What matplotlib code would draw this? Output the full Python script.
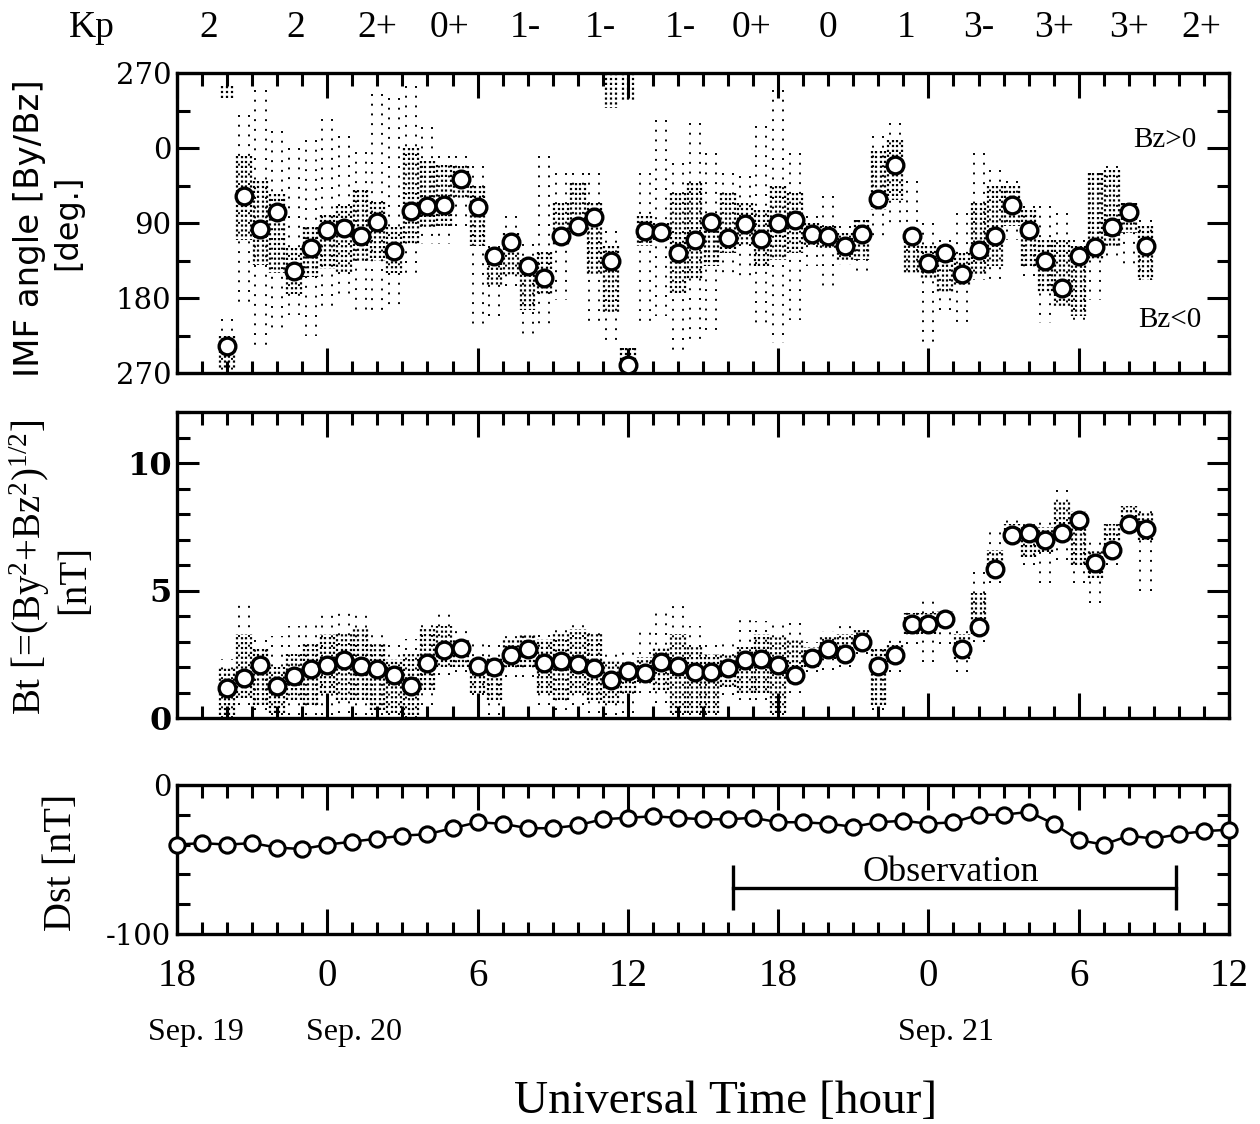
import numpy as np
import matplotlib
matplotlib.use('Agg')
import matplotlib.pyplot as plt
from matplotlib.ticker import MultipleLocator, FixedLocator
import matplotlib.transforms as mtransforms

# ---------------- data (hours relative to Sep. 20, 00 UT) ----------------
avg_start = -4.0          # first 40-min average
avg_step = 40.0 / 60.0    # 40-min averages

imf_angle = [238, 57, 97, 77, 148, 120, 98, 96, 105, 89, 124, 76, 70, 68, 37, 71,
             130, 113, 142, 156, 105, 93, 83, 135, 260, 100, 101, 126, 110, 89, 108,
             91, 109, 90, 86, 103, 106, 118, 103, 61, 20, 105, 138, 126, 151, 122,
             105, 68, 98, 136, 168, 130, 119, 95, 77, 117]

bt = [1.17, 1.56, 2.09, 1.26, 1.66, 1.92, 2.09, 2.28, 2.05, 1.92, 1.69, 1.26, 2.15,
      2.67, 2.74, 2.02, 1.99, 2.48, 2.70, 2.15, 2.22, 2.13, 1.96, 1.50, 1.83, 1.76,
      2.18, 2.02, 1.79, 1.79, 1.96, 2.26, 2.31, 2.09, 1.69, 2.35, 2.70, 2.52, 3.00,
      2.02, 2.48, 3.69, 3.69, 3.87, 2.70, 3.58, 5.83, 7.17, 7.24, 6.97, 7.26, 7.76,
      6.09, 6.58, 7.60, 7.43]

# envelope of the 1-min samples in each 40-min interval (dense core / sparse outliers)
imf_core_lo = [225, 10, 40, 55, 120, 95, 80, 70, 50, 65, 95, 0, 15, 20, 22, 46, 126,
               102, 134, 125, 66, 42, 66, 118, 240, 82, 90, 54, 42, 82, 54, 66, 74, 46,
               54, 90, 94, 102, 86, 4, -10, 100, 118, 122, 126, 66, 46, 46, 74, 110,
               110, 118, 30, 26, 66, 94]
imf_core_hi = [265, 110, 140, 150, 175, 155, 145, 150, 135, 135, 150, 115, 95, 95, 62,
               118, 166, 154, 194, 175, 118, 86, 154, 198, 270, 118, 110, 174, 158, 142,
               126, 118, 142, 134, 126, 118, 122, 134, 134, 74, 62, 150, 158, 174, 166,
               154, 142, 94, 142, 174, 190, 202, 134, 118, 102, 158]
imf_ext_lo = [205, -40, -70, -20, 0, -10, -35, -15, 5, -65, -60, -75, -25, 10, 10, 22,
              118, 82, 115, 10, 30, 30, 30, 100, 240, 30, -34, 18, -30, 6, 30, 34, -26,
              -70, 6, 82, 58, 94, 86, -14, -30, 40, 90, 110, 78, 6, 26, 40, 70, 70, 78,
              110, 30, 22, 66, 86]
imf_ext_hi = [270, 190, 240, 220, 200, 225, 195, 175, 200, 200, 195, 155, 115, 115,
              100, 215, 206, 166, 230, 215, 182, 110, 214, 230, 270, 214, 202, 246, 234,
              218, 150, 154, 214, 234, 206, 142, 174, 140, 150, 110, 90, 150, 234, 200,
              210, 158, 158, 110, 158, 210, 194, 210, 182, 134, 142, 158]
# samples wrapping across 270/-90 (drawn near the top edge)
imf_wrap_lo = [-75] + [np.nan] * 22 + [-90, -90] + [np.nan] * 31
imf_wrap_hi = [-60] + [np.nan] * 22 + [-48, -58] + [np.nan] * 31

bt_core_lo = [0.1, 0.8, 0.5, 0.2, 0.7, 0.5, 1.0, 0.7, 0.7, 0.3, 0.2, 0.1, 1.1, 2.0, 2.0,
              1.0, 0.7, 2.0, 2.0, 1.0, 0.7, 1.0, 0.7, 0.6, 1.0, 1.4, 1.1, 0.2, 0.2, 0.2,
              1.2, 1.0, 1.0, 0.2, 1.6, 2.0, 2.3, 2.3, 2.8, 0.5, 2.2, 3.3, 3.3, 3.6, 2.3,
              3.3, 5.6, 7.0, 6.3, 6.5, 7.2, 6.0, 5.5, 6.6, 7.5, 7.0]
bt_core_hi = [2.0, 3.3, 2.8, 2.0, 2.5, 2.9, 3.3, 3.3, 3.5, 2.9, 2.3, 2.5, 3.5, 3.6, 3.1,
              2.3, 2.4, 3.1, 3.3, 3.1, 3.3, 3.5, 3.3, 2.3, 2.0, 2.4, 2.8, 3.3, 2.8, 2.5,
              2.5, 2.8, 3.3, 3.2, 3.1, 2.8, 3.2, 3.3, 3.5, 2.8, 2.9, 4.1, 4.1, 4.2, 3.3,
              4.9, 6.6, 7.6, 7.5, 7.5, 8.5, 8.1, 6.6, 7.6, 8.3, 8.1]
bt_ext_lo = [0.0, 0.5, 0.3, 0.1, 0.1, 0.1, 0.1, 0.2, 0.1, 0.1, 0.1, 0.0, 0.5, 1.7, 1.8,
             0.9, 0.1, 1.6, 1.6, 0.5, 0.3, 0.5, 0.2, 0.1, 0.2, 1.0, 0.6, 0.1, 0.1, 0.1,
             0.9, 0.7, 0.7, 0.1, 1.0, 1.8, 1.9, 2.0, 2.5, 0.3, 1.8, 2.9, 2.2, 2.9, 1.8,
             3.0, 5.3, 6.9, 6.0, 5.3, 6.2, 5.3, 4.5, 6.0, 7.4, 5.0]
bt_ext_hi = [2.3, 4.6, 3.2, 3.2, 3.6, 3.7, 4.2, 4.2, 4.2, 3.5, 3.0, 3.1, 3.9, 4.2, 3.5,
             3.0, 3.0, 3.3, 3.3, 3.4, 3.6, 3.8, 3.5, 2.8, 2.8, 3.5, 4.1, 4.6, 3.6, 3.0,
             3.0, 4.0, 3.8, 3.8, 3.8, 3.0, 3.4, 3.6, 3.6, 3.0, 3.3, 4.2, 4.6, 4.3, 3.5,
             5.9, 7.3, 7.8, 7.7, 7.7, 9.2, 8.3, 7.1, 7.9, 8.5, 8.3]

dst_hours = list(range(-6, 37))
dst = [-40, -39, -40, -39, -42, -43, -40, -38, -36, -34, -33, -29, -25, -26, -29, -29,
       -27, -23, -22, -21, -22, -23, -23, -22, -25, -25, -26, -28, -25, -24, -26, -25,
       -20, -20, -18, -26, -37, -40, -34, -36, -33, -31, -30]

kp_labels = ['2', '2', '2+', '0+', '1-', '1-', '1-', '0+', '0', '1', '3-', '3+', '3+', '2+']
kp_pos = [-4.75, -1.25, 2.0, 4.9, 7.9, 10.9, 14.1, 16.95, 20.0, 23.1, 26.0, 29.0, 32.0, 34.9]

x_ticks = [-6, 0, 6, 12, 18, 24, 30, 36]
x_ticklabels = ['18', '0', '6', '12', '18', '0', '6', '12']
date_labels = ['Sep. 19', 'Sep. 20', 'Sep. 21']
date_pos = [-5.24, 1.07, 24.7]

obs_start, obs_end, obs_level = 16.2, 33.9, -69

# ---------------- figure ----------------
plt.rcParams['font.family'] = ['Liberation Serif', 'DejaVu Serif']
plt.rcParams['mathtext.fontset'] = 'custom'
plt.rcParams['mathtext.rm'] = 'Liberation Serif'
plt.rcParams['mathtext.it'] = 'Liberation Serif'

fig = plt.figure(figsize=(12.6, 11.24), dpi=100)
L, W = 177 / 1260, 1052 / 1260
def ypos(top, bot):
    return [L, 1 - bot / 1124, W, (bot - top) / 1124]
ax1 = fig.add_axes(ypos(73, 373))
ax2 = fig.add_axes(ypos(412, 718))
ax3 = fig.add_axes(ypos(785, 934))

t_avg = avg_start + avg_step * np.arange(len(imf_angle))

def dots(ax, t, lo, hi, ncol, half, dash, lw):
    offs = np.linspace(-half, half, ncol)
    xs, a0, a1 = [], [], []
    for ti, a, b in zip(t, lo, hi):
        if np.isnan(a):
            continue
        for o in offs:
            xs.append(ti + o); a0.append(a); a1.append(b)
    ax.vlines(xs, a0, a1, colors='k', linestyles=[(0, dash)], linewidth=lw, zorder=2)

for ax in (ax1, ax2, ax3):
    ax.set_xlim(-6, 36)
    ax.xaxis.set_major_locator(FixedLocator(x_ticks))
    ax.xaxis.set_minor_locator(MultipleLocator(1))
    ax.tick_params(axis='x', which='major', length=18, width=2.2, direction='in',
                   top=True, bottom=True)
    ax.tick_params(axis='x', which='minor', length=9, width=2.2, direction='in',
                   top=True, bottom=True)
    ax.tick_params(axis='y', which='major', length=16, width=2.2, direction='in',
                   left=True, right=True)
    ax.tick_params(axis='y', which='minor', length=9, width=2.2, direction='in',
                   left=True, right=True)
    for s in ax.spines.values():
        s.set_linewidth(2.4)

# ---- panel 1: IMF clock angle ----
dots(ax1, t_avg, np.array(imf_ext_lo, float), np.array(imf_ext_hi, float), 2, 0.2, (1, 4), 1.4)
dots(ax1, t_avg, np.array(imf_core_lo, float), np.array(imf_core_hi, float), 4, 0.27, (1, 1.2), 1.6)
dots(ax1, t_avg, np.array(imf_wrap_lo, float), np.array(imf_wrap_hi, float), 3, 0.2, (1, 1.2), 1.6)
ax1.plot(t_avg, imf_angle, 'o', ms=12, mfc='white', mec='k', mew=2.4, zorder=5)
ax1.set_ylim(270, -90)
ax1.yaxis.set_major_locator(FixedLocator([-90, 0, 90, 180, 270]))
ax1.yaxis.set_minor_locator(FixedLocator([-45, 45, 135, 225]))
ax1.set_yticklabels(['270', '0', '90', '180', '270'], fontfamily='DejaVu Serif', fontsize=21)
ax1.tick_params(axis='y', pad=4)
ax1.tick_params(axis='x', labelbottom=False)
ax1.text(33.44, -9.6, 'Bz>0', fontsize=21, ha='center', va='center')
ax1.text(33.64, 206, 'Bz<0', fontsize=21, ha='center', va='center')
trans = mtransforms.blended_transform_factory(ax1.transData, ax1.transAxes)
for lab, p in zip(kp_labels, kp_pos):
    ax1.text(p, 1.15, lab, transform=trans, fontsize=27, ha='center', va='center')
ax1.text(-9.4, 1.15, 'Kp', transform=trans, fontsize=27, ha='center', va='center')

# ---- panel 2: Bt ----
dots(ax2, t_avg, np.array(bt_ext_lo), np.array(bt_ext_hi), 2, 0.2, (1, 4), 1.4)
dots(ax2, t_avg, np.array(bt_core_lo), np.array(bt_core_hi), 4, 0.27, (1, 1.2), 1.6)
ax2.plot(t_avg, bt, 'o', ms=12, mfc='white', mec='k', mew=2.4, zorder=5)
ax2.set_ylim(0, 12)
ax2.yaxis.set_major_locator(FixedLocator([0, 5, 10]))
ax2.yaxis.set_minor_locator(MultipleLocator(1))
ax2.set_yticklabels(['0', '5', '10'], fontfamily='DejaVu Serif', fontweight='bold', fontsize=23)
ax2.tick_params(axis='y', pad=4)
ax2.tick_params(axis='x', labelbottom=False)

# ---- panel 3: Dst ----
ax3.plot(dst_hours, dst, '-', color='k', lw=1.8, zorder=3)
ax3.plot(dst_hours, dst, 'o', ms=11, mfc='white', mec='k', mew=2.2, zorder=5, clip_on=False)
ax3.set_ylim(-100, 0)
ax3.yaxis.set_major_locator(FixedLocator([-100, 0]))
ax3.yaxis.set_minor_locator(FixedLocator([-80, -60, -40, -20]))
ax3.set_yticklabels(['-100', '0'], fontfamily='DejaVu Serif', fontsize=21)
ax3.tick_params(axis='y', pad=4)
ax3.set_xticklabels(x_ticklabels, fontsize=28)
ax3.tick_params(axis='x', which='major', pad=17)
ax3.plot([obs_start, obs_end], [obs_level, obs_level], color='k', lw=2.4, zorder=4)
ax3.vlines([obs_start, obs_end], obs_level - 15, obs_level + 15, colors='k', lw=2.4, zorder=4)
ax3.text(24.9, -59, 'Observation', fontsize=26, ha='center', va='center')
trans3 = mtransforms.blended_transform_factory(ax3.transData, ax3.transAxes)
for lab, p in zip(date_labels, date_pos):
    ax3.text(p, -0.66, lab, transform=trans3, fontsize=23, ha='center', va='center')

# ---- axis titles ----
fig.text(30 / 1260, 1 - 228 / 1124, 'IMF angle [By/Bz]', rotation=90, fontsize=24.5,
         family='DejaVu Sans', ha='center', va='center')
fig.text(68 / 1260, 1 - 222 / 1124, '[deg.]', rotation=90, fontsize=23,
         family='DejaVu Sans', ha='center', va='center')
fig.text(30 / 1260, 1 - 567 / 1124, r'Bt [=(By$^2$+Bz$^2$)$^{1/2}$]', rotation=90,
         fontsize=28, ha='center', va='center')
fig.text(75 / 1260, 1 - 580 / 1124, '[nT]', rotation=90, fontsize=28,
         ha='center', va='center')
fig.text(62 / 1260, 1 - 862 / 1124, 'Dst [nT]', rotation=90, fontsize=29,
         ha='center', va='center')
fig.text(726 / 1260, 1 - 1102 / 1124, 'Universal Time [hour]', fontsize=34,
         ha='center', va='center')

fig.savefig('out.png', dpi=100)
